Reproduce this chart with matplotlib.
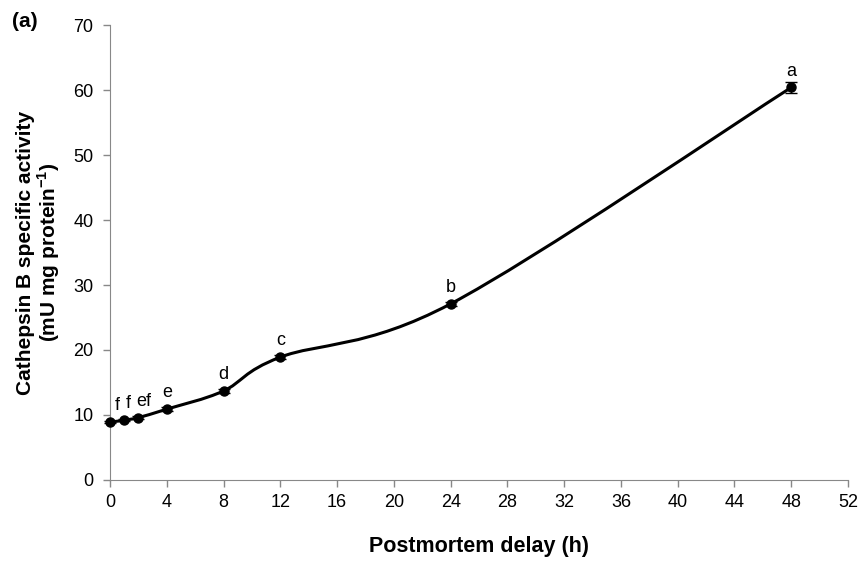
import numpy as np
import matplotlib.pyplot as plt
from matplotlib.path import Path
from matplotlib.patches import PathPatch

plt.rcParams['font.family'] = ['Liberation Sans', 'DejaVu Sans']
plt.rcParams['mathtext.fontset'] = 'custom'
plt.rcParams['mathtext.rm'] = 'Liberation Sans'
plt.rcParams['mathtext.bf'] = 'Liberation Sans:bold'

delay_h = [0, 1, 2, 4, 8, 12, 24, 48]
activity = [8.9, 9.2, 9.6, 10.9, 13.7, 18.9, 27.1, 60.4]
errors = [0.2, 0.2, 0.2, 0.3, 0.3, 0.3, 0.3, 0.9]
letters = ['f', 'f', 'ef', 'e', 'd', 'c', 'b', 'a']
xticks = list(range(0, 53, 4))
yticks = list(range(0, 71, 10))


def smooth_path(x, y, t=1 / 6):
    # Excel-like smoothed line as cubic bezier segments
    pts = np.column_stack([x, y]).astype(float)
    n = len(pts)
    verts = [pts[0]]
    codes = [Path.MOVETO]
    for i in range(n - 1):
        p0 = pts[i - 1] if i > 0 else pts[i]
        p1, p2 = pts[i], pts[i + 1]
        p3 = pts[i + 2] if i + 2 < n else pts[i + 1]
        c1 = p1 + (p2 - p0) * t
        c2 = p2 - (p3 - p1) * t
        verts += [c1, c2, p2]
        codes += [Path.CURVE4] * 3
    return Path(verts, codes)


fig = plt.figure(figsize=(8.62, 5.61), dpi=100)
ax = fig.add_axes([0.1276, 0.1444, 0.8562, 0.811])

ax.add_patch(PathPatch(smooth_path(delay_h, activity), fill=False, lw=2.2,
                       color='black', clip_on=False))
eb = ax.errorbar(delay_h, activity, yerr=errors, fmt='o', color='black', ms=6.5,
                 capsize=4, elinewidth=1, zorder=3)
for art in eb.get_children():
    art.set_clip_on(False)
# small rightward nudges so the crowded labels near 0 h do not overlap
nudges = [0.5, 0.3, 0.35, 0, 0, 0, 0, 0]
for xv, yv, lab, dx in zip(delay_h, activity, letters, nudges):
    ax.text(xv + dx, yv + 1.2, lab, ha='center', va='bottom', fontsize=13)

ax.set_xlim(0, 52)
ax.set_ylim(0, 70)
ax.set_xticks(xticks)
ax.set_yticks(yticks)
ax.tick_params(labelsize=13, color='#888888', length=5, width=1)
for s in ['top', 'right']:
    ax.spines[s].set_visible(False)
for s in ['left', 'bottom']:
    ax.spines[s].set_color('#888888')
ax.tick_params(axis='x', pad=5)
ax.tick_params(axis='y', pad=7)

ax.set_xlabel('Postmortem delay (h)', fontsize=15.5, fontweight='bold', labelpad=18)
ax.set_ylabel('Cathepsin B specific activity\n(mU mg protein$^{\\mathbf{-1}}$)', fontsize=15,
              fontweight='bold', labelpad=8, linespacing=1.0)
fig.text(0.014, 0.962, '(a)', fontsize=15, fontweight='bold', va='center')

fig.savefig('out.png', dpi=100)
